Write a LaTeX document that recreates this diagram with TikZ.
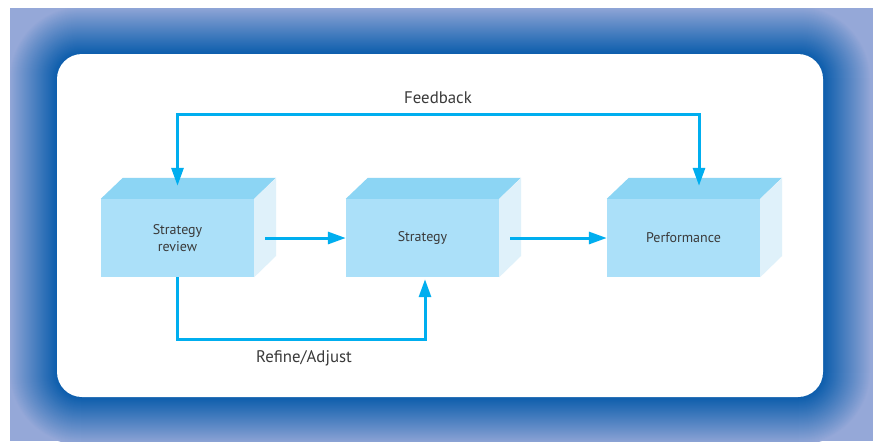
\documentclass[tikz,border=0pt]{standalone}
\usepackage{fontspec}
\setmainfont{PT Sans}
\usepackage{xcolor}
\usetikzlibrary{arrows.meta,positioning,calc}
\definecolor{framedark}{HTML}{0B5DAC}
\definecolor{framelight}{HTML}{95A8D8}
\definecolor{boxfront}{HTML}{ABE0F9}
\definecolor{boxtop}{HTML}{8CD5F4}
\definecolor{boxside}{HTML}{DFF1FA}
\definecolor{flowblue}{HTML}{00AEEF}
\definecolor{labelgray}{HTML}{3A3A3A}
\tikzset{
  flowarr/.style={-{Triangle[length=18pt, width=12pt]}, line width=3pt, draw=flowblue},
  cubenode/.style={fill=boxfront, minimum width=153pt, minimum height=78pt, inner sep=0pt, align=center},
  looplabel/.style={font=\fontsize{16.8}{19}\selectfont, text=labelgray},
}

\begin{document}
\begin{tikzpicture}[
  x=1pt, y=-1pt,
  font=\fontsize{14}{16.5}\selectfont, text=labelgray,
]
  \useasboundingbox (0,0) rectangle (874,442);

  % Frame with shaded border
  \begin{scope}
    \clip (10,8) rectangle (873,441);
    \fill[framelight] (10,8) rectangle (873,441);
    \foreach \s in {48,47,...,1} {
      \pgfmathsetmacro\mixp{100*(1-\s/48)^0.95}
      \pgfmathsetmacro\rr{25+\s}
      \fill[framedark!\mixp!framelight, rounded corners=\rr pt]
        (57-\s,54-\s) rectangle (823+\s,397+\s);
    }
  \end{scope}
  \fill[white, rounded corners=25pt] (57,54) rectangle (823,397);

  % Boxes
  \node[cubenode] (rev) at (177.5,238) {Strategy\\review};
  \node[cubenode] (strat) at (422.5,238) {Strategy};
  \node[cubenode] (perf) at (683.5,238) {Performance};

  \foreach \n in {rev,strat,perf} {
    \fill[boxtop] (\n.north west) -- ++(22,-21) -- ++(153,0) -- (\n.north east) -- cycle;
    \fill[boxside] (\n.north east) -- ++(22,-21) -- ++(0,78) -- (\n.south east) -- cycle;
  }

  % Labels
  \node[looplabel] (fb) at (438,98) {Feedback};
  \node[looplabel] (ra) at (304,358) {Refine/Adjust};
  \coordinate (fbmid) at (438,114);

  \draw[flowarr] ($(rev.east)+(11,0)$) -- (strat.west);
  \draw[flowarr] ($(strat.east)+(11,0)$) -- (perf.west);

  \draw[flowarr] (fbmid) -| ($(rev.north)+(0,-13)$);
  \draw[flowarr] (fbmid) -| ($(perf.north)+(15.5,-13)$);
  \draw[flowarr] (rev.south) -- ++(0,62) -| ($(strat.south)+(2.5,2)$);

\end{tikzpicture}
\end{document}
